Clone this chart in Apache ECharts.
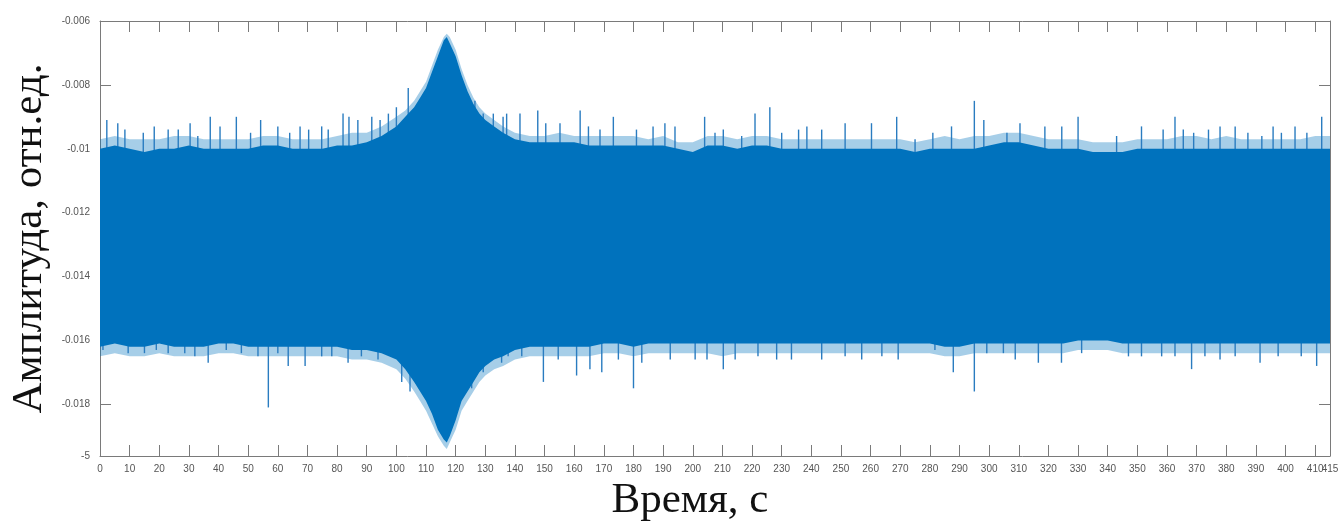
<!DOCTYPE html>
<html>
<head>
<meta charset="utf-8">
<title>Амплитуда</title>
<script src="https://cdn.jsdelivr.net/npm/echarts@6/dist/echarts.min.js"></script>
<style>
    html, body { margin: 0; padding: 0; background: #fff; }
    #chart { width: 1340px; height: 523px; }
</style>
</head>
<body>
<div id="chart"></div>
<script>
// огибающая сигнала: время, верхний и нижний край сплошной полосы
var envT = [0, 5, 10, 15, 20, 25, 30, 35, 40, 45, 50, 55, 60, 65, 70, 75, 80, 85, 90,
    95, 100, 103, 106, 108, 110, 112, 114, 116, 117, 118, 120, 122, 124, 126, 128, 130, 133, 136, 140, 145,
    150, 155, 160, 165, 170, 175, 180, 185, 190, 195, 200, 205, 210, 215, 220, 225, 230, 235, 240, 245,
    250, 255, 260, 265, 270, 275, 280, 285, 290, 295, 300, 305, 310, 315, 320, 325, 330, 335, 340, 345,
    350, 355, 360, 365, 370, 375, 380, 385, 390, 395, 400, 405, 410, 415];
var envTop = [-0.0100, -0.0099, -0.0100, -0.0101, -0.0100, -0.0100, -0.0099, -0.0100, -0.0100, -0.0100,
    -0.0100, -0.0099, -0.0099, -0.0100, -0.0100, -0.0100, -0.0099, -0.0099, -0.0098,
    -0.0096, -0.0093, -0.0090, -0.0087, -0.0084, -0.0081, -0.0076, -0.0071, -0.0066, -0.0065, -0.0067,
    -0.0071, -0.0077, -0.0082, -0.0086, -0.0089, -0.0091, -0.0093, -0.0095, -0.0097, -0.0098,
    -0.0098, -0.0098, -0.0098, -0.0099, -0.0099, -0.0099, -0.0099, -0.0099, -0.0099, -0.0100,
    -0.0101, -0.0099, -0.0099, -0.0100, -0.0099, -0.0099, -0.0100, -0.0100, -0.0100, -0.0100,
    -0.0100, -0.0100, -0.0100, -0.0100, -0.0100, -0.0101, -0.0100, -0.0100, -0.0100, -0.0100,
    -0.0099, -0.0098, -0.0098, -0.0099, -0.0100, -0.0100, -0.0100, -0.0101, -0.0101, -0.0101,
    -0.0100, -0.0100, -0.0100, -0.0100, -0.0100, -0.0100, -0.0100, -0.0100, -0.0100, -0.0100,
    -0.0100, -0.0100, -0.0100, -0.0100];
var envBot = [-0.0162, -0.0161, -0.0162, -0.0162, -0.0161, -0.0162, -0.0162, -0.0162, -0.0161, -0.0161,
    -0.0162, -0.0162, -0.0162, -0.0162, -0.0162, -0.0162, -0.0162, -0.0163, -0.0163,
    -0.0164, -0.0166, -0.0169, -0.0173, -0.0176, -0.0179, -0.0183, -0.0188, -0.0191, -0.0192, -0.0190,
    -0.0185, -0.0179, -0.0176, -0.0173, -0.0170, -0.0168, -0.0166, -0.0165, -0.0163, -0.0162,
    -0.0162, -0.0162, -0.0162, -0.0162, -0.0161, -0.0161, -0.0162, -0.0161, -0.0161, -0.0161,
    -0.0161, -0.0161, -0.0161, -0.0161, -0.0161, -0.0161, -0.0161, -0.0161, -0.0161, -0.0161,
    -0.0161, -0.0161, -0.0161, -0.0161, -0.0161, -0.0161, -0.0161, -0.0162, -0.0162, -0.0161,
    -0.0161, -0.0161, -0.0161, -0.0161, -0.0161, -0.0161, -0.0160, -0.0160, -0.0160, -0.0161,
    -0.0161, -0.0161, -0.0161, -0.0161, -0.0161, -0.0161, -0.0161, -0.0161, -0.0161, -0.0161,
    -0.0161, -0.0161, -0.0161, -0.0161];

// внешняя "бахрома" из мелких выбросов (те же моменты времени)
var fuzzTop = [-0.0097, -0.0096, -0.0097, -0.0097, -0.0097, -0.0096, -0.0096, -0.0097, -0.0097, -0.0097,
    -0.0097, -0.0096, -0.0096, -0.0097, -0.0097, -0.0097, -0.0096, -0.0095, -0.0095,
    -0.0093, -0.0090, -0.0088, -0.0085, -0.0082, -0.0079, -0.0074, -0.0069, -0.0065, -0.0064, -0.0065,
    -0.0069, -0.0075, -0.0080, -0.0084, -0.0087, -0.0089, -0.0091, -0.0093, -0.0095, -0.0096,
    -0.0096, -0.0095, -0.0096, -0.0096, -0.0096, -0.0096, -0.0096, -0.0097, -0.0096, -0.0098,
    -0.0098, -0.0096, -0.0096, -0.0097, -0.0096, -0.0096, -0.0097, -0.0097, -0.0097, -0.0097,
    -0.0097, -0.0097, -0.0097, -0.0097, -0.0097, -0.0098, -0.0097, -0.0096, -0.0097, -0.0096,
    -0.0096, -0.0095, -0.0095, -0.0096, -0.0097, -0.0097, -0.0097, -0.0098, -0.0098, -0.0098,
    -0.0097, -0.0097, -0.0097, -0.0096, -0.0096, -0.0097, -0.0096, -0.0097, -0.0097, -0.0097,
    -0.0097, -0.0097, -0.0096, -0.0096];
var fuzzBot = [-0.0165, -0.0164, -0.0165, -0.0165, -0.0164, -0.0165, -0.0165, -0.0165, -0.0164, -0.0164,
    -0.0165, -0.0165, -0.0165, -0.0165, -0.0165, -0.0165, -0.0165, -0.0166, -0.0166,
    -0.0167, -0.0169, -0.0172, -0.0176, -0.0179, -0.0182, -0.0186, -0.0190, -0.0193, -0.0194, -0.0192,
    -0.0188, -0.0182, -0.0179, -0.0176, -0.0173, -0.0171, -0.0169, -0.0168, -0.0166, -0.0165,
    -0.0165, -0.0165, -0.0165, -0.0165, -0.0164, -0.0164, -0.0165, -0.0164, -0.0164, -0.0164,
    -0.0164, -0.0164, -0.0165, -0.0164, -0.0164, -0.0164, -0.0164, -0.0164, -0.0164, -0.0164,
    -0.0164, -0.0164, -0.0164, -0.0164, -0.0164, -0.0164, -0.0164, -0.0165, -0.0165, -0.0164,
    -0.0164, -0.0164, -0.0164, -0.0164, -0.0164, -0.0164, -0.0163, -0.0163, -0.0163, -0.0164,
    -0.0164, -0.0164, -0.0164, -0.0164, -0.0164, -0.0164, -0.0164, -0.0164, -0.0164, -0.0164,
    -0.0164, -0.0164, -0.0164, -0.0164];

// выбросы вверх (время, вершина)
var upT = [2.3, 6, 8.4, 14.6, 18.3, 23, 26.4, 30.4, 33, 37.2, 40.5, 46, 50.8, 54.2, 60, 64, 67.5, 70.4,
    74.8, 77, 82, 84, 87, 91.7, 94.5, 97.3, 100, 104, 126.5, 129.3, 132.7, 136, 137.2, 141.7, 147.7,
    150.4, 155.2, 162, 164.8, 168.7, 173.2, 181, 186.6, 190.6, 194, 204, 207.5, 210.3, 216.5, 221, 226,
    230, 235.7, 238.5, 243.5, 251.4, 260.3, 268.8, 275, 281, 287.3, 295, 298.2, 306, 310.4, 318.8,
    324.5, 330, 343, 351.4, 358.7, 362.7, 365.5, 369, 374, 377.9, 383, 387.3, 392, 395.8, 398.6, 403.2,
    407.2, 412.2];
var upV = [-0.0091, -0.0092, -0.0094, -0.0095, -0.0093, -0.0094, -0.0094, -0.0092, -0.0096, -0.0090,
    -0.0093, -0.0090, -0.0095, -0.0091, -0.0093, -0.0095, -0.0093, -0.0094, -0.0093, -0.0094, -0.0089,
    -0.0090, -0.0091, -0.0090, -0.0091, -0.0089, -0.0087, -0.0081, -0.0085, -0.0089, -0.0089, -0.0090,
    -0.0089, -0.0089, -0.0088, -0.0092, -0.0092, -0.0088, -0.0093, -0.0094, -0.0090, -0.0094, -0.0093,
    -0.0092, -0.0093, -0.0090, -0.0095, -0.0094, -0.0096, -0.0089, -0.0087, -0.0095, -0.0094, -0.0093,
    -0.0094, -0.0092, -0.0092, -0.0090, -0.0097, -0.0095, -0.0093, -0.0085, -0.0091, -0.0095, -0.0092,
    -0.0093, -0.0093, -0.0090, -0.0096, -0.0093, -0.0094, -0.0090, -0.0094, -0.0095, -0.0094, -0.0093,
    -0.0093, -0.0095, -0.0096, -0.0093, -0.0095, -0.0093, -0.0095, -0.0090];

// выбросы вниз (время, вершина)
var dnT = [1, 9.5, 15, 19, 23, 28.6, 32, 36.5, 42.6, 47.7, 53.3, 56.8, 60, 63.5, 69.2, 74.8, 78.2, 83.7,
    88.2, 93.8, 101.8, 104.6, 125.4, 129.3, 135.5, 137.7, 142.3, 149.6, 154.6, 160.8, 165.3, 169.3,
    174.9, 180, 182.8, 192.4, 200.8, 204.8, 210.3, 214.3, 222, 228.3, 233.3, 243.5, 251.4, 257, 263.8,
    269.3, 281.7, 287.9, 295, 299.2, 304.8, 308.8, 316.6, 324.4, 331.2, 347, 351.4, 358.2, 362.7, 368.3,
    372.8, 377.9, 383, 391.4, 397.5, 405.3, 410.5];
var dnV = [-0.0163, -0.0164, -0.0164, -0.0163, -0.0164, -0.0164, -0.0165, -0.0167, -0.0163, -0.0164,
    -0.0165, -0.0181, -0.0164, -0.0168, -0.0168, -0.0165, -0.0165, -0.0167, -0.0165, -0.0166, -0.0173,
    -0.0176, -0.0175, -0.0170, -0.0167, -0.0165, -0.0165, -0.0173, -0.0166, -0.0171, -0.0169, -0.0170,
    -0.0166, -0.0175, -0.0167, -0.0166, -0.0166, -0.0166, -0.0169, -0.0166, -0.0165, -0.0166, -0.0166,
    -0.0166, -0.0165, -0.0166, -0.0165, -0.0166, -0.0163, -0.0170, -0.0176, -0.0164, -0.0164, -0.0166,
    -0.0167, -0.0167, -0.0164, -0.0165, -0.0165, -0.0165, -0.0165, -0.0169, -0.0165, -0.0166, -0.0165,
    -0.0167, -0.0165, -0.0165, -0.0168];
// основание выбросов внутри полосы
var upBase = -0.0105;
var dnBase = -0.0155;

// оси
var yMin = -0.01962;
var yMax = -0.006;
var yTicks = [-0.01962, -0.018, -0.016, -0.014, -0.012, -0.01, -0.008, -0.006];
var yTickLabels = ['-5', '-0.018', '-0.016', '-0.014', '-0.012', '-0.01', '-0.008', '-0.006'];
var xTicks = [];
for (var k = 0; k <= 410; k += 10) xTicks.push(k);
var xEndTick = [415];

var blue = '#0072BD';
var axisColor = '#7a7a7a';

var chart = echarts.init(document.getElementById('chart'));

var bandData = envT.map(function (t, i) { return [t, envTop[i], envBot[i]]; });
var fuzzData = envT.map(function (t, i) { return [t, fuzzTop[i], fuzzBot[i]]; });
var spikeData = [];
upT.forEach(function (t, i) { spikeData.push([t, upBase, upV[i]]); });
dnT.forEach(function (t, i) { spikeData.push([t, dnBase, dnV[i]]); });

function yLabel(v) {
    var best = 0;
    for (var i = 1; i < yTicks.length; i++) {
        if (Math.abs(yTicks[i] - v) < Math.abs(yTicks[best] - v)) best = i;
    }
    return yTickLabels[best];
}

// один многоугольник: верхний край слева направо, нижний справа налево
function envPolygon(style) {
    return function (params, api) {
        if (params.dataIndexInside !== 0) return null;
        var n = params.dataInsideLength;
        var pts = [];
        for (var j = 0; j < n; j++) pts.push(api.coord([api.value(0, j), api.value(1, j)]));
        for (var j2 = n - 1; j2 >= 0; j2--) pts.push(api.coord([api.value(0, j2), api.value(2, j2)]));
        return { type: 'polygon', shape: { points: pts }, style: style };
    };
}

var tickStyle = { show: true, inside: true, length: 11, lineStyle: { color: axisColor, width: 1 } };
var lineStyle = { show: true, onZero: false, lineStyle: { color: axisColor, width: 1 } };
var tickFont = { fontSize: 10, color: '#555', fontFamily: 'Liberation Sans' };

var option = {
    animation: false,
    backgroundColor: '#fff',
    grid: { left: 100, right: 10, top: 21, bottom: 67, containLabel: false, outerBoundsMode: 'none' },
    xAxis: [{
        type: 'value', min: 0, max: 415, position: 'bottom',
        name: 'Время, с', nameLocation: 'middle', nameGap: 22,
        nameTextStyle: { fontFamily: 'Liberation Serif', fontSize: 43, color: '#111', padding: [0, 50, 0, 0] },
        axisLine: lineStyle,
        axisTick: Object.assign({ customValues: xTicks }, tickStyle),
        axisLabel: Object.assign({ customValues: xTicks, hideOverlap: false, margin: 8 }, tickFont),
        splitLine: { show: false }
    }, {
        type: 'value', min: 0, max: 415, position: 'top',
        axisLine: lineStyle,
        axisTick: Object.assign({ customValues: xTicks }, tickStyle),
        axisLabel: { show: false },
        splitLine: { show: false }
    }, {
        // конец шкалы 415, наползает на 410
        type: 'value', min: 0, max: 415, position: 'bottom',
        axisLine: { show: false },
        axisTick: { show: false },
        axisLabel: Object.assign({ customValues: xEndTick, hideOverlap: false, margin: 8 }, tickFont),
        splitLine: { show: false }
    }],
    yAxis: [{
        type: 'value', min: yMin, max: yMax, position: 'left',
        name: 'Амплитуда, отн.ед.', nameLocation: 'middle', nameGap: 49,
        nameTextStyle: { fontFamily: 'Liberation Serif', fontSize: 43, color: '#111' },
        axisLine: lineStyle,
        axisTick: Object.assign({ customValues: yTicks.slice(1) }, tickStyle),
        axisLabel: Object.assign({ customValues: yTicks, formatter: yLabel, margin: 10 }, tickFont),
        splitLine: { show: false }
    }, {
        type: 'value', min: yMin, max: yMax, position: 'right',
        axisLine: lineStyle,
        axisTick: Object.assign({ customValues: yTicks.slice(1) }, tickStyle),
        axisLabel: { show: false },
        splitLine: { show: false }
    }],
    series: [{
        // бахрома
        type: 'custom',
        z: 1,
        silent: true,
        clip: true,
        encode: { x: 0, y: [1, 2] },
        data: fuzzData,
        renderItem: envPolygon({ fill: blue, opacity: 0.35 })
    }, {
        // выбросы
        type: 'custom',
        z: 2,
        silent: true,
        clip: true,
        encode: { x: 0, y: [1, 2] },
        data: spikeData,
        renderItem: function (params, api) {
            var p1 = api.coord([api.value(0), api.value(1)]);
            var p2 = api.coord([api.value(0), api.value(2)]);
            return {
                type: 'line',
                shape: { x1: p1[0], y1: p1[1], x2: p2[0], y2: p2[1] },
                style: { stroke: '#2a7cc0', lineWidth: 1.4 }
            };
        }
    }, {
        // сплошная полоса сигнала
        type: 'custom',
        z: 3,
        silent: true,
        clip: true,
        encode: { x: 0, y: [1, 2] },
        data: bandData,
        renderItem: envPolygon({ fill: blue })
    }]
};

chart.setOption(option);
</script>
</body>
</html>
